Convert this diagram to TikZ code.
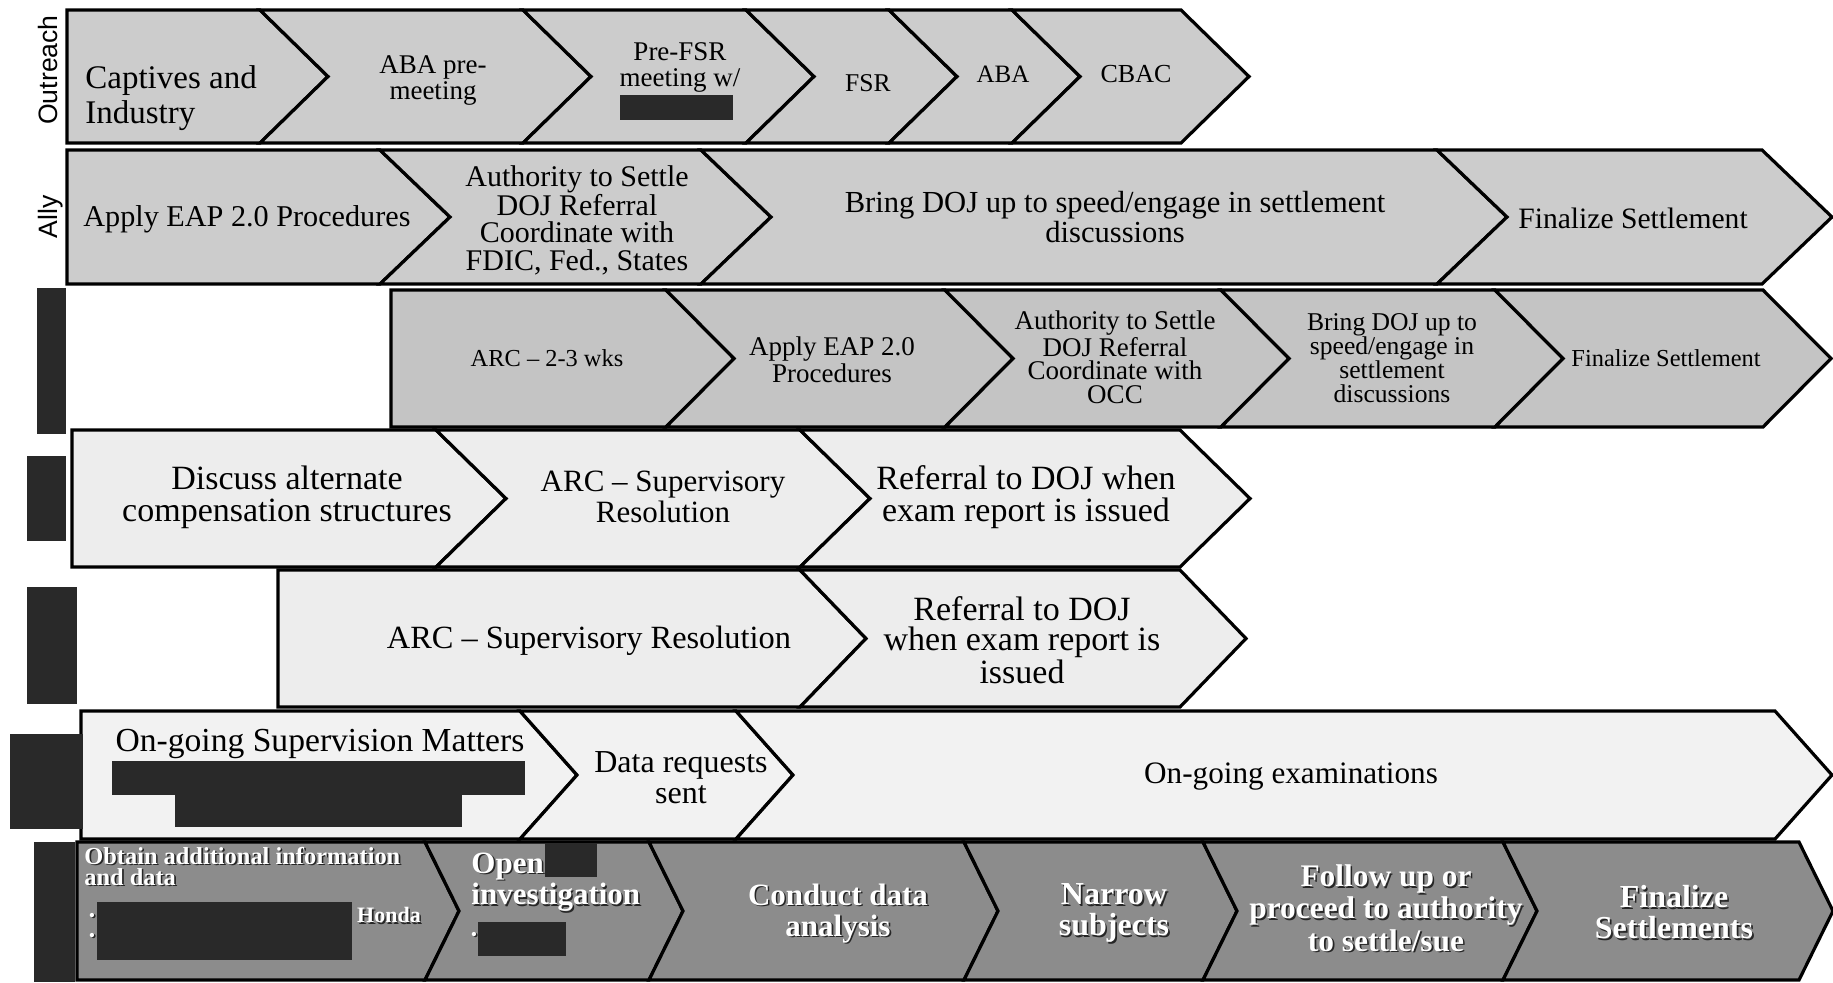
\documentclass[tikz,border=0pt]{standalone}
\usepackage{fontspec}
\setmainfont{Liberation Serif}
\newfontfamily\lsans{Liberation Sans}
\definecolor{fillA}{gray}{0.80}
\definecolor{fillB}{gray}{0.77}
\definecolor{fillC}{gray}{0.93}
\definecolor{fillD}{gray}{0.95}
\definecolor{fillE}{gray}{0.55}
\definecolor{redc}{gray}{0.16}
\newcommand\fsz[2]{\fontsize{#1}{#2}\selectfont}
% chevron segments: style, x-left, x-right, top, bottom, depth
\newcommand\cfirst[6]{\path[#1] (#2,#4) -- (#3,#4) -- ({#3+#6},{(#4+#5)/2}) -- (#3,#5) -- (#2,#5) -- cycle;}
\newcommand\cnext[6]{\path[#1] (#2,#4) -- (#3,#4) -- ({#3+#6},{(#4+#5)/2}) -- (#3,#5) -- (#2,#5) -- ({#2+#6},{(#4+#5)/2}) -- cycle;}
% one line of white text with a dark drop shadow
\newcommand\shd[1]{\makebox[0pt][l]{\kern0.8pt\raisebox{-0.8pt}{\textcolor{black!85}{#1}}}#1}
\begin{document}
\begin{tikzpicture}[x=0.5pt,y=-0.5pt,
  seg/.style={draw=black,line width=1.6pt,line join=miter},
  lbl/.style={inner sep=0pt,align=center,text=black},
  wlbl/.style={inner sep=0pt,align=center,text=white},
  side/.style={inner sep=0pt,rotate=90,anchor=base,font=\lsans\fsz{13.3}{14}},
  redact/.style={fill=redc,draw=none}]
\path[use as bounding box] (0,0) rectangle (1833,982);

% ---------- Row 1: Outreach ----------
\cfirst{seg,fill=fillA}{67}{260}{10}{143}{68}
\cnext{seg,fill=fillA}{260}{523}{10}{143}{68}
\cnext{seg,fill=fillA}{523}{746}{10}{143}{68}
\cnext{seg,fill=fillA}{746}{889}{10}{143}{68}
\cnext{seg,fill=fillA}{889}{1012}{10}{143}{68}
\cnext{seg,fill=fillA}{1012}{1181}{10}{143}{68}
\node[side] (lout) at (57,70) {Outreach};
\node[lbl,anchor=west,align=left,font=\fsz{16.5}{17.5}] (t1a) at (85,98) {Captives and\\Industry};
\node[lbl,font=\fsz{13.5}{13}] (t1b) at (433,80) {ABA pre-\\meeting};
\node[lbl,font=\fsz{13.5}{13}] (t1c) at (680,67) {Pre-FSR\\meeting w/};
\node[lbl,font=\fsz{12.8}{13}] (t1d) at (868,83) {FSR};
\node[lbl,font=\fsz{12.5}{13}] (t1e) at (1003,74) {ABA};
\node[lbl,font=\fsz{13}{13}] (t1f) at (1136,74) {CBAC};
\fill[redact] (620,95) rectangle (733,120);

% ---------- Row 2: Ally ----------
\cfirst{seg,fill=fillA}{67}{380}{150}{284}{70}
\cnext{seg,fill=fillA}{380}{701}{150}{284}{70}
\cnext{seg,fill=fillA}{701}{1437}{150}{284}{70}
\cnext{seg,fill=fillA}{1437}{1762}{150}{284}{70}
\node[side] (lally) at (57,217) {Ally};
\node[lbl,font=\fsz{15.1}{16}] (t2a) at (247,219) {Apply EAP 2.0 Procedures};
\node[lbl,font=\fsz{15}{13.6}] (t2b) at (577,220) {Authority to Settle\\DOJ Referral\\Coordinate with\\FDIC, Fed., States};
\node[lbl,font=\fsz{15.3}{15}] (t2c) at (1115,217) {Bring DOJ up to speed/engage in settlement\\discussions};
\node[lbl,font=\fsz{14.8}{15}] (t2d) at (1633,218) {Finalize Settlement};

% ---------- Row 3 ----------
\cfirst{seg,fill=fillB}{391}{666}{290}{427}{68}
\cnext{seg,fill=fillB}{666}{945}{290}{427}{68}
\cnext{seg,fill=fillB}{945}{1221}{290}{427}{68}
\cnext{seg,fill=fillB}{1221}{1495}{290}{427}{68}
\cnext{seg,fill=fillB}{1495}{1763}{290}{427}{68}
\node[lbl,font=\fsz{12.2}{13}] (t3a) at (547,358) {ARC – 2-3 wks};
\node[lbl,font=\fsz{13.5}{12}] (t3b) at (832,360) {Apply EAP 2.0\\Procedures};
\node[lbl,font=\fsz{13.5}{11.7}] (t3c) at (1115,357) {Authority to Settle\\DOJ Referral\\Coordinate with\\OCC};
\node[lbl,font=\fsz{12.8}{12}] (t3d) at (1392,358) {Bring DOJ up to\\speed/engage in\\settlement\\discussions};
\node[lbl,font=\fsz{12.2}{13}] (t3e) at (1666,358) {Finalize Settlement};

% ---------- Row 4 ----------
\cfirst{seg,fill=fillC}{72}{436}{430}{567}{70}
\cnext{seg,fill=fillC}{436}{800}{430}{567}{70}
\cnext{seg,fill=fillC}{800}{1180}{430}{567}{70}
\node[lbl,font=\fsz{17}{16}] (t4a) at (287,497) {Discuss alternate\\compensation structures};
\node[lbl,font=\fsz{15.5}{15.5}] (t4b) at (663,497) {ARC – Supervisory\\Resolution};
\node[lbl,font=\fsz{17}{16}] (t4c) at (1026,497) {Referral to DOJ when\\exam report is issued};

% ---------- Row 5 ----------
\cfirst{seg,fill=fillC}{278}{800}{570}{707}{66}
\cnext{seg,fill=fillC}{800}{1180}{570}{707}{66}
\node[lbl,font=\fsz{16.2}{16}] (t5a) at (589,641) {ARC – Supervisory Resolution};
\node[lbl,font=\fsz{17}{15.3}] (t5b) at (1022,640) {Referral to DOJ\\when exam report is\\issued};

% ---------- Row 6 ----------
\cfirst{seg,fill=fillD}{81}{520}{711}{839}{57}
\cnext{seg,fill=fillD}{520}{736}{711}{839}{57}
\cnext{seg,fill=fillD}{736}{1775}{711}{839}{57}
\node[lbl,font=\fsz{16.8}{17}] (t6a) at (320,744) {On-going Supervision Matters};
\node[lbl,font=\fsz{16}{15.5}] (t6b) at (681,778) {Data requests\\sent};
\node[lbl,font=\fsz{15.6}{16}] (t6c) at (1291,777) {On-going examinations};
\fill[redact] (112,761) rectangle (525,795);
\fill[redact] (175,794) rectangle (462,827);

% ---------- Row 7 ----------
\cfirst{seg,fill=fillE}{77}{425}{842}{980}{34}
\cnext{seg,fill=fillE}{425}{649}{842}{980}{34}
\cnext{seg,fill=fillE}{649}{964}{842}{980}{34}
\cnext{seg,fill=fillE}{964}{1203}{842}{980}{34}
\cnext{seg,fill=fillE}{1203}{1503}{842}{980}{34}
\cnext{seg,fill=fillE}{1503}{1799}{842}{980}{34}
\node[wlbl,anchor=west,align=left,font=\bfseries\fsz{12.2}{10.5}] (t7a) at (84,867) {\shd{Obtain additional information}\\\shd{and data}};
\node[wlbl,font=\fsz{9}{9}] (b7a) at (92,918) {\shd{•}};
\node[wlbl,font=\fsz{9}{9}] (b7b) at (92,938) {\shd{•}};
\node[wlbl,font=\bfseries\fsz{11}{11}] (t7h) at (389,916) {\shd{Honda}};
\node[wlbl,anchor=west,align=left,font=\bfseries\fsz{15.5}{14}] (t7b) at (471,883) {\shd{Open}\\\shd{investigation}};
\node[wlbl,font=\fsz{9}{9}] (b7c) at (474,937) {\shd{•}};
\node[wlbl,font=\bfseries\fsz{15.5}{15.5}] (t7c) at (838,914) {\shd{Conduct data}\\\shd{analysis}};
\node[wlbl,font=\bfseries\fsz{16}{15.5}] (t7d) at (1114,914) {\shd{Narrow}\\\shd{subjects}};
\node[wlbl,font=\bfseries\fsz{15.7}{13}] (t7e) at (1386,909) {\shd{Follow up or}\\\shd{proceed to authority}\\\shd{to settle/sue}};
\node[wlbl,font=\bfseries\fsz{16}{15.5}] (t7f) at (1674,913) {\shd{Finalize}\\\shd{Settlements}};
\fill[redact] (97,902) rectangle (352,960);
\fill[redact] (545,843) rectangle (597,877);
\fill[redact] (478,922) rectangle (566,956);

% ---------- left label bars ----------
\fill[redact] (37,288) rectangle (66,434);
\fill[redact] (27,456) rectangle (66,541);
\fill[redact] (27,587) rectangle (77,704);
\fill[redact] (10,734) rectangle (83,829);
\fill[redact] (34,842) rectangle (75,982);
\end{tikzpicture}
\end{document}
